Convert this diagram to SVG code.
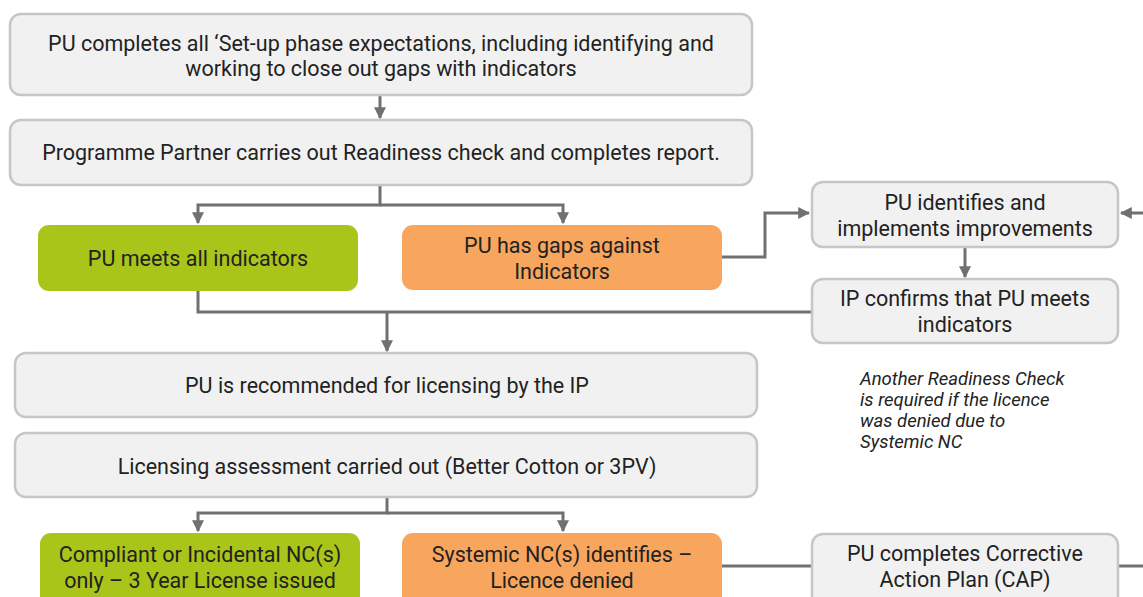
<svg xmlns="http://www.w3.org/2000/svg" width="1143" height="597" viewBox="0 0 1143 597">
<style>
.box{fill:#f1f1f1;stroke:#c6c6c6;stroke-width:2.5}
.g{fill:#a9c51a}
.o{fill:#f8a55e}
.t{font-family:Roboto,"Liberation Sans",sans-serif;font-size:21.5px;fill:#222;text-anchor:middle}
.n{font-family:Roboto,"Liberation Sans",sans-serif;font-size:18.5px;font-style:italic;fill:#222}
.c{fill:none;stroke:#707070;stroke-width:3}
</style>
<defs>
<marker id="a" viewBox="0 0 10 10" refX="9" refY="5" markerWidth="4" markerHeight="4" orient="auto" markerUnits="strokeWidth"><path d="M0,0L10,5L0,10z" fill="#707070"/></marker>
</defs>
<g id="connectors">
<path class="c" d="M380,95V118" marker-end="url(#a)"/>
<path class="c" d="M380,185V205H198V223" marker-end="url(#a)"/>
<path class="c" d="M380,205H563V223" marker-end="url(#a)"/>
<path class="c" d="M722,257H765V213H809" marker-end="url(#a)"/>
<path class="c" d="M1143,213H1121" marker-end="url(#a)"/>
<path class="c" d="M965,247V277" marker-end="url(#a)"/>
<path class="c" d="M198,291V312H812"/>
<path class="c" d="M387,312V351" marker-end="url(#a)"/>
<path class="c" d="M387,497V513H198V531" marker-end="url(#a)"/>
<path class="c" d="M387,513H563V531" marker-end="url(#a)"/>
<path class="c" d="M722,566H812"/>
<path class="c" d="M1118,566H1143"/>
</g>
<g id="n1"><rect class="box" x="10" y="14" width="742" height="81" rx="11"/><text class="t" x="381" y="51">PU completes all ‘Set-up phase expectations, including identifying and</text><text class="t" x="381" y="76">working to close out gaps with indicators</text></g>
<g id="n2"><rect class="box" x="10" y="120" width="742" height="65" rx="11"/><text class="t" x="381" y="160">Programme Partner carries out Readiness check and completes report.</text></g>
<g id="n3"><rect class="g" x="38" y="225" width="320" height="66" rx="11"/><text class="t" x="198" y="266">PU meets all indicators</text></g>
<g id="n4"><rect class="o" x="402" y="225" width="320" height="65" rx="11"/><text class="t" x="562" y="253">PU has gaps against</text><text class="t" x="562" y="279">Indicators</text></g>
<g id="n5"><rect class="box" x="812" y="182" width="306" height="65" rx="11"/><text class="t" x="965" y="210">PU identifies and</text><text class="t" x="965" y="236">implements improvements</text></g>
<g id="n6"><rect class="box" x="812" y="279" width="306" height="64" rx="11"/><text class="t" x="965" y="306">IP confirms that PU meets</text><text class="t" x="965" y="332">indicators</text></g>
<g id="n7"><rect class="box" x="15" y="353" width="742" height="64" rx="11"/><text class="t" x="387" y="393">PU is recommended for licensing by the IP</text></g>
<g id="note"><text class="n" x="860" y="385">Another Readiness Check</text><text class="n" x="860" y="406">is required if the licence</text><text class="n" x="860" y="427">was denied due to</text><text class="n" x="860" y="448">Systemic NC</text></g>
<g id="n8"><rect class="box" x="15" y="433" width="742" height="64" rx="11"/><text class="t" x="387" y="474">Licensing assessment carried out (Better Cotton or 3PV)</text></g>
<g id="n9"><rect class="g" x="40" y="533" width="320" height="80" rx="11"/><text class="t" x="200" y="562">Compliant or Incidental NC(s)</text><text class="t" x="200" y="588">only – 3 Year License issued</text></g>
<g id="n10"><rect class="o" x="402" y="533" width="320" height="80" rx="11"/><text class="t" x="562" y="562">Systemic NC(s) identifies –</text><text class="t" x="562" y="588">Licence denied</text></g>
<g id="n11"><rect class="box" x="812" y="534" width="306" height="80" rx="11"/><text class="t" x="965" y="561">PU completes Corrective</text><text class="t" x="965" y="587">Action Plan (CAP)</text></g>
</svg>
